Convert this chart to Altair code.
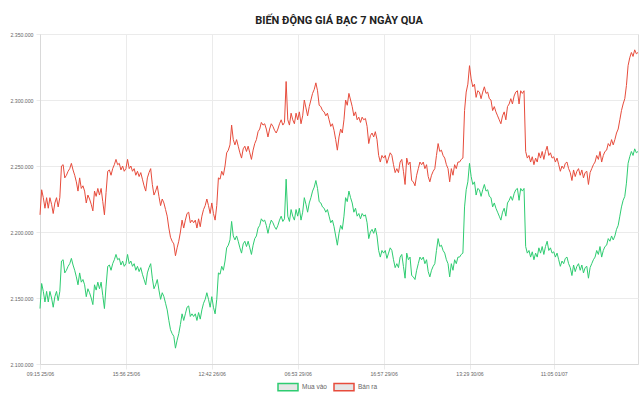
import altair as alt
import pandas as pd

# Giá bạc theo từng lần cập nhật (đơn vị: nghìn đồng)
mua_vao = [
    2142, 2161, 2155, 2147, 2155, 2147, 2155, 2150, 2143, 2151,
    2155, 2148, 2155, 2178, 2179, 2169, 2171, 2174, 2176, 2180,
    2175, 2171, 2166, 2160, 2169, 2162, 2164, 2160, 2151, 2157,
    2154, 2150, 2145, 2160, 2156, 2162, 2157, 2162, 2152, 2142,
    2159, 2174, 2175, 2171, 2176, 2179, 2183, 2179, 2180, 2175,
    2178, 2174, 2176, 2183, 2176, 2178, 2174, 2176, 2171, 2174,
    2170, 2173, 2168, 2164, 2160, 2169, 2173, 2176, 2165, 2157,
    2160,
    2164, 2156, 2149, 2154, 2151, 2146, 2141, 2133, 2126, 2123,
    2121, 2112, 2118, 2123, 2130, 2138, 2133, 2138, 2143, 2144,
    2136, 2138, 2136, 2138, 2133, 2139, 2134, 2141, 2146, 2149,
    2154, 2149, 2143, 2151, 2143, 2138, 2149, 2169, 2168, 2174,
    2171, 2178, 2188, 2190, 2194, 2208, 2197, 2194, 2197, 2193,
    2188, 2184, 2191, 2193, 2189, 2193, 2188, 2183, 2190, 2195,
    2197, 2203, 2205, 2210, 2208, 2209, 2205, 2199, 2205, 2209,
    2207, 2204, 2202,
    2205, 2209, 2212, 2208, 2210, 2240, 2212, 2208, 2217, 2212,
    2209, 2217, 2212, 2218, 2209, 2215, 2226, 2221, 2215, 2222,
    2226, 2231, 2234, 2239, 2233, 2223, 2222, 2219, 2218, 2215,
    2217, 2212, 2207, 2209, 2204, 2197, 2190, 2199, 2205, 2202,
    2212, 2226, 2223, 2231, 2226, 2222, 2215, 2218, 2212, 2214,
    2210, 2214, 2212, 2213, 2207, 2195, 2200, 2202, 2199, 2203,
    2197, 2186, 2181, 2186, 2184, 2186, 2180, 2184, 2188, 2186,
    2179, 2173, 2176,
    2173, 2181, 2183, 2174, 2165, 2184, 2179, 2181, 2167, 2166,
    2164, 2171, 2176, 2181, 2179, 2181, 2176, 2179, 2170, 2166,
    2171, 2174, 2176, 2186, 2195, 2189, 2190, 2186, 2184, 2179,
    2176, 2166, 2176, 2171, 2179, 2176, 2181, 2181, 2183, 2184,
    2219, 2232, 2238, 2252, 2242, 2236, 2238, 2228, 2233, 2232,
    2227, 2232, 2236, 2231, 2232, 2227, 2226, 2219, 2222, 2218,
    2215, 2212, 2209, 2215, 2218, 2212, 2222, 2224, 2227, 2224,
    2229, 2232,
    2233, 2224, 2233, 2231, 2233, 2189, 2184, 2186, 2181, 2185,
    2179, 2184, 2181, 2188, 2184, 2189, 2183, 2189, 2193, 2186,
    2188, 2184, 2185, 2181, 2184, 2179, 2174, 2178, 2176, 2180,
    2181, 2176, 2173, 2167, 2175, 2170, 2174, 2176, 2171, 2175,
    2169, 2173, 2174, 2165, 2173, 2176, 2179, 2181, 2186, 2183,
    2189, 2181, 2186, 2189, 2190, 2195, 2193, 2197, 2194, 2197,
    2202, 2205, 2212, 2219, 2224, 2227, 2237, 2252, 2257, 2261,
    2258, 2263, 2260, 2261,
]

ban_ra = [
    2213, 2232, 2226, 2218, 2226, 2218, 2226, 2221, 2214, 2222,
    2226, 2219, 2226, 2250, 2251, 2241, 2243, 2246, 2248, 2252,
    2247, 2243, 2238, 2231, 2241, 2233, 2235, 2231, 2222, 2228,
    2225, 2221, 2216, 2231, 2227, 2233, 2228, 2233, 2223, 2213,
    2230, 2246, 2247, 2243, 2248, 2251, 2255, 2251, 2252, 2247,
    2250, 2246, 2248, 2255, 2248, 2250, 2246, 2248, 2243, 2246,
    2242, 2245, 2240, 2235, 2231, 2241, 2245, 2248, 2236, 2228,
    2231,
    2235, 2227, 2220, 2225, 2222, 2217, 2212, 2203, 2196, 2193,
    2191, 2182, 2188, 2193, 2200, 2209, 2203, 2209, 2214, 2215,
    2207, 2209, 2207, 2209, 2203, 2210, 2204, 2212, 2217, 2220,
    2225, 2220, 2214, 2222, 2214, 2209, 2220, 2241, 2240, 2246,
    2243, 2250, 2260, 2262, 2266, 2281, 2270, 2266, 2270, 2265,
    2260, 2256, 2263, 2265, 2261, 2265, 2260, 2255, 2262, 2267,
    2270, 2276, 2278, 2283, 2281, 2282, 2278, 2272, 2278, 2282,
    2280, 2277, 2275,
    2278, 2282, 2285, 2281, 2283, 2314, 2285, 2281, 2290, 2285,
    2282, 2290, 2285, 2291, 2282, 2288, 2300, 2294, 2288, 2295,
    2300, 2305, 2308, 2313, 2307, 2296, 2295, 2292, 2291, 2288,
    2290, 2285, 2280, 2282, 2277, 2270, 2262, 2272, 2278, 2275,
    2285, 2300, 2296, 2305, 2300, 2295, 2288, 2291, 2285, 2287,
    2283, 2287, 2285, 2286, 2280, 2267, 2273, 2275, 2272, 2276,
    2270, 2258, 2253, 2258, 2256, 2258, 2252, 2256, 2260, 2258,
    2251, 2245, 2248,
    2245, 2253, 2255, 2246, 2236, 2256, 2251, 2253, 2239, 2238,
    2235, 2243, 2248, 2253, 2251, 2253, 2248, 2251, 2242, 2238,
    2243, 2246, 2248, 2258, 2267, 2261, 2262, 2258, 2256, 2251,
    2248, 2238, 2248, 2243, 2251, 2248, 2253, 2253, 2255, 2256,
    2292, 2306, 2312, 2326, 2316, 2310, 2312, 2302, 2307, 2306,
    2301, 2306, 2310, 2305, 2306, 2301, 2300, 2292, 2295, 2291,
    2288, 2285, 2282, 2288, 2291, 2285, 2295, 2297, 2301, 2297,
    2303, 2306,
    2307, 2297, 2307, 2305, 2307, 2261, 2256, 2258, 2253, 2257,
    2251, 2256, 2253, 2260, 2256, 2261, 2255, 2261, 2265, 2258,
    2260, 2256, 2257, 2253, 2256, 2251, 2246, 2250, 2248, 2252,
    2253, 2248, 2245, 2239, 2247, 2242, 2246, 2248, 2243, 2247,
    2241, 2245, 2246, 2236, 2245, 2248, 2251, 2253, 2258, 2255,
    2261, 2253, 2258, 2261, 2262, 2267, 2265, 2270, 2266, 2270,
    2275, 2278, 2285, 2292, 2297, 2301, 2311, 2326, 2332, 2336,
    2333, 2338, 2335, 2336,
]

# Nhãn thời gian trên trục hoành và vị trí (số thứ tự lần cập nhật)
nhan_thoi_gian = ["09:15 25/06", "15:56 25/06", "12:42 26/06", "06:53 29/06",
                  "16:57 29/06", "13:29 30/06", "11:05 01/07"]
vi_tri_nhan = [0, 52, 104, 156, 208, 260, 311]

muc_gia = [2100000, 2150000, 2200000, 2250000, 2300000, 2350000]

ten_chuoi = ["Mua vào", "Bán ra"]
mau_chuoi = ["#2ecc71", "#e74c3c"]

rows = []
for i, (m, b) in enumerate(zip(mua_vao, ban_ra)):
    rows.append({"stt": i, "loai": ten_chuoi[0], "gia": m * 1000})
    rows.append({"stt": i, "loai": ten_chuoi[1], "gia": b * 1000})
df = pd.DataFrame(rows)

x_label_expr = ""
for v, s in zip(vi_tri_nhan, nhan_thoi_gian):
    x_label_expr += f"datum.value == {v} ? '{s}' : "
x_label_expr += "''"

grid_color = "#ebebeb"
axis_font = "Liberation Sans"

chart = (
    alt.Chart(df)
    .mark_line(strokeWidth=1)
    .encode(
        x=alt.X(
            "stt:Q",
            scale=alt.Scale(domain=[0, len(mua_vao) - 1], nice=False, zero=False),
            axis=alt.Axis(
                values=vi_tri_nhan, labelExpr=x_label_expr, title=None,
                grid=True, gridColor=grid_color, tickColor=grid_color, tickSize=5,
                domainColor="#d9d9d9", labelFont=axis_font, labelFontSize=5.2,
                labelColor="#666666", labelPadding=2, labelFlush=False,
                labelOverlap=False,
            ),
        ),
        y=alt.Y(
            "gia:Q",
            scale=alt.Scale(domain=[2100000, 2350000], nice=False, zero=False),
            axis=alt.Axis(
                values=muc_gia,
                labelExpr="replace(format(datum.value, ','), regexp(',', 'g'), '.')",
                title=None, grid=True, gridColor=grid_color, tickColor=grid_color,
                tickSize=4, domainColor="#d9d9d9", labelFont=axis_font,
                labelFontSize=5.2, labelColor="#666666", labelPadding=3,
                labelFlush=False,
            ),
        ),
        color=alt.Color(
            "loai:N",
            scale=alt.Scale(domain=ten_chuoi, range=mau_chuoi),
            legend=alt.Legend(
                title=None, orient="none", direction="horizontal",
                legendX=237, legendY=342, padding=0,
                symbolType="M-1,-0.36L1,-0.36L1,0.36L-1,0.36Z", symbolSize=400,
                symbolFillColor="#e6e6e6", symbolStrokeWidth=1.5,
                labelFont=axis_font, labelFontSize=6.5, labelColor="#666666",
                labelOffset=3, columnPadding=4,
            ),
        ),
    )
    .properties(
        width=598,
        height=330,
        autosize=alt.AutoSizeParams(type="none"),
        padding={"left": 40, "top": 34, "right": 2, "bottom": 37},
        title=alt.TitleParams(
            "BIẾN ĐỘNG GIÁ BẠC 7 NGÀY QUA", font="Roboto", fontSize=11,
            fontWeight="bold", color="#222222", anchor="middle", offset=6,
        ),
    )
    .configure_view(strokeWidth=0)
    .configure(background="white")
)

chart.save("out.html", embed_options={"renderer": "svg", "actions": False})
